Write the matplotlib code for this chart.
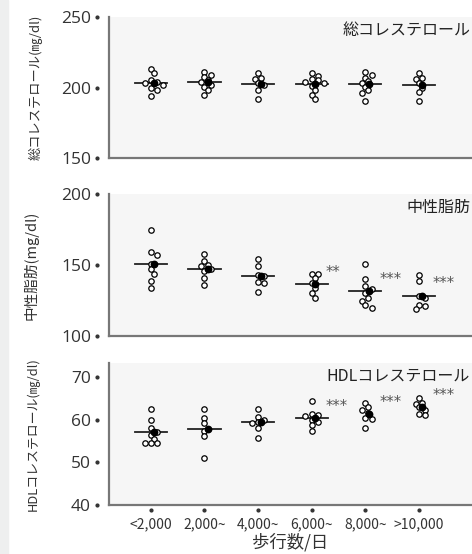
import matplotlib
matplotlib.use("Agg")
import matplotlib.pyplot as plt
from matplotlib.patches import Rectangle
import numpy as np

plt.rcParams['font.family'] = ['Noto Sans CJK JP', 'DejaVu Sans']

categories = ['<2,000', '2,000~', '4,000~', '6,000~', '8,000~', '>10,000']

# 総コレステロール
tc_vals = [
    [213, 210, 205, 204, 203, 202, 200, 198, 194],
    [211, 209, 207.5, 205, 204, 202, 200.5, 198, 195],
    [210, 207, 206, 203, 201.5, 198.5, 191.5],
    [210, 208.5, 206, 205, 204, 203, 201, 198, 195, 192],
    [211, 209, 207, 204.5, 203, 200.5, 198, 196, 190.5],
    [210, 207, 206, 203, 200, 197, 190.5],
]
tc_sig = ['', '', '', '', '', '']

# 中性脂肪
tg_vals = [
    [175, 159, 157, 151, 147, 144, 139, 134],
    [158, 153, 150, 149, 147, 146, 141, 136],
    [154, 149, 143, 142, 138, 137, 131],
    [144, 144, 141, 137, 134, 130, 127],
    [151, 140, 135, 133, 130, 127, 125, 122, 120],
    [143, 139, 128, 127, 122, 121, 119],
]
tg_sig = ['', '', '', '**', '***', '***']

# HDLコレステロール
hdl_vals = [
    [62.5, 60, 58, 57.2, 56.5, 55.5, 54.5, 54.5, 54.5],
    [62.5, 60.5, 59.3, 57.3, 56.2, 51],
    [62.5, 60.7, 59.9, 59.4, 59.2, 58, 55.8],
    [64.5, 61.3, 61.0, 60.8, 60.0, 59.5, 58.8, 57.3],
    [64, 63, 62.3, 61.5, 60.3, 60.1, 58],
    [65, 64, 63.8, 62.9, 62.4, 61.3, 61.1],
]
hdl_sig = ['', '', '', '***', '***', '***']
hdl_lines = [True, True, True, True, False, False]

panels = [
    dict(vals=tc_vals, sig=tc_sig, lines=[True] * 6, ylim=(150, 250),
         ticks=[150, 200, 250], title='総コレステロール',
         ylabel='総コレステロール(㎎/dl)', ylsize=9.5, ylx=-0.182,
         rect=[0.2309, 0.7148, 0.7691, 0.2545]),
    dict(vals=tg_vals, sig=tg_sig, lines=[True] * 6, ylim=(100, 200),
         ticks=[100, 150, 200], title='中性脂肪',
         ylabel='中性脂肪(mg/dl)', ylsize=10.5, ylx=-0.193,
         rect=[0.2309, 0.3935, 0.7691, 0.2563]),
    dict(vals=hdl_vals, sig=hdl_sig, lines=hdl_lines, ylim=(40, 73.3),
         ticks=[40, 50, 60, 70], title='HDLコレステロール',
         ylabel='HDLコレステロール(㎎/dl)', ylsize=9.3, ylx=-0.19,
         rect=[0.2309, 0.0884, 0.7691, 0.2563]),
]


def swarm(ax, xc, values, diam):
    # simple deterministic beeswarm in pixel space
    pts = ax.transData.transform(np.column_stack([np.full(len(values), xc), values]))
    order = np.argsort(-np.asarray(values))
    placed = []
    out = np.zeros(len(values))
    for i in order:
        px, py = pts[i]
        for k in range(0, 20):
            off = ((k + 1) // 2) * diam * 0.6 * (1 if k % 2 else -1) if k else 0
            ok = all((px + off - qx) ** 2 + (py - qy) ** 2 >= (diam * 0.9) ** 2 for qx, qy in placed)
            if ok:
                break
        placed.append((px + off, py))
        out[i] = off
    inv = ax.transData.inverted()
    xs = inv.transform(np.column_stack([pts[:, 0] + out, pts[:, 1]]))[:, 0]
    return xs


fig = plt.figure(figsize=(4.72, 5.54), dpi=100)
fig.patches.append(Rectangle((0, 0), 0.016, 1, transform=fig.transFigure,
                             color='#eeefef', zorder=0))

x = np.arange(len(categories))
for p in panels:
    ax = fig.add_axes(p['rect'])
    ax.set_facecolor('#f6f6f6')
    ax.set_xlim(-0.78, 5.99)
    ax.set_ylim(*p['ylim'])
    for s in ['top', 'right']:
        ax.spines[s].set_visible(False)
    ax.spines['left'].set_color('#777777')
    ax.spines['bottom'].set_color('#777777')
    ax.spines['left'].set_linewidth(1.6)
    ax.spines['bottom'].set_linewidth(1.6)

    ax.set_yticks(p['ticks'])
    ax.set_yticklabels([str(t) for t in p['ticks']], family='Open Sans',
                       fontsize=12.5, color='#333333')
    ax.tick_params(axis='y', length=0, pad=13)
    ax.plot(np.full(len(p['ticks']), -0.033), p['ticks'], 'o', ms=2,
            color='#333333', transform=ax.get_yaxis_transform(), clip_on=False)

    ax.set_xticks(x)
    ax.tick_params(axis='x', length=0)
    if p is panels[-1]:
        ax.set_xticklabels(categories, fontsize=10, color='#333333')
        ax.tick_params(axis='x', pad=9)
        ax.plot(x, np.full(len(x), -0.035), 'o', ms=2, color='#333333',
                transform=ax.get_xaxis_transform(), clip_on=False)
        ax.set_xlabel('歩行数/日', fontsize=12.5, color='#333333', labelpad=1)
    else:
        ax.set_xticklabels([])

    ax.set_ylabel(p['ylabel'], fontsize=p['ylsize'], color='#333333')
    ax.yaxis.set_label_coords(p['ylx'], 0.5)
    ax.text(0.995, 0.905, p['title'], transform=ax.transAxes, ha='right',
            va='center', fontsize=11.5, color='#222222')

    for i, vals in enumerate(p['vals']):
        m = np.mean(vals)
        if p['lines'][i]:
            ax.plot([i - 0.3, i + 0.3], [m, m], color='#222222', lw=1.3, zorder=2)
        xs = swarm(ax, i, vals, 5.2)
        ax.plot(xs, vals, 'o', ms=3.9, mfc='white', mec='black', mew=0.9,
                zorder=3, clip_on=False)
        ax.plot(i + 0.06, m, 'o', ms=4.6, color='black', zorder=4)
        if p['sig'][i]:
            ax.annotate(p['sig'][i], (i, m), xytext=(10, 3),
                        textcoords='offset points', fontsize=10.5,
                        color='#555555', family='DejaVu Sans', va='bottom')

fig.savefig('out.png', dpi=100)
